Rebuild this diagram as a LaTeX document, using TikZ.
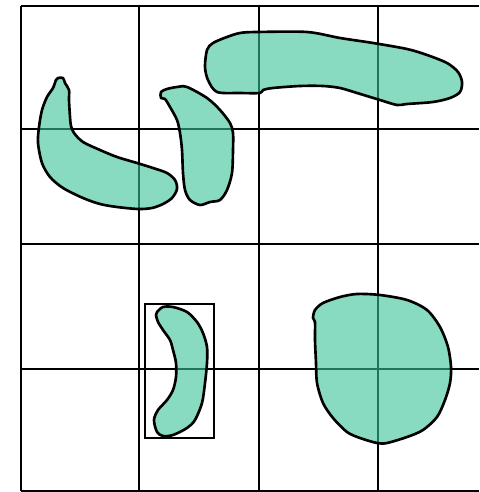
\documentclass[tikz,border=0pt]{standalone}
\usepackage{tikz}
\definecolor{blobgreen}{RGB}{57,193,152}

\begin{document}
\begin{tikzpicture}[x=0.02cm, y=-0.02cm,
    gridline/.style={black, line width=1.3pt},
    blob/.style={draw=black, line width=1.5pt, fill=blobgreen, fill opacity=0.6, line join=round}]
  \useasboundingbox (0,0) rectangle (479,492);

  % Grid
  \foreach \gx in {21,139,259,378}
    \draw[gridline] (\gx,6) -- (\gx,491);
  \foreach \gy in {6,129,244,369,491}
    \draw[gridline] (21,\gy) -- (479,\gy);

  % Left banana
  \draw[blob] plot[smooth cycle, tension=0.5] coordinates {
    (58,78) (63,78) (65,83) (69,90) (69,100) (70,117) (71,126) (74,133)
    (83,142) (100,150) (117,157) (137,163) (153,168) (167,173) (175,180)
    (177,189) (172,198) (163,204) (152,208) (138,209) (117,207) (100,204)
    (83,198) (63,188) (50,177) (42,163) (38,143) (39,127) (42,110) (47,97)
    (53,88) (56,80)};

  % Comma shape
  \draw[blob] plot[smooth cycle, tension=0.5] coordinates {
    (161,92) (161,98) (165,99) (170,107) (177,120) (180,133) (182,150)
    (183,173) (185,190) (190,200) (200,205) (210,202) (220,200) (227,190)
    (232,173) (233,150) (233,133) (230,123) (220,110) (207,98) (187,87)
    (177,87) (167,89)};

  % Long top shape
  \draw[blob] plot[smooth cycle, tension=0.5] coordinates {
    (207,50) (213,43) (227,37) (240,33) (257,32) (307,32) (340,38) (373,43)
    (407,49) (427,55) (447,63) (458,72) (462,82) (460,92) (450,98) (433,102)
    (407,104) (397,105) (380,100) (357,93) (340,88) (323,86) (300,86)
    (273,88) (263,90) (260,93) (240,93) (217,92) (208,80) (205,67)};

  % Box round the crescent
  \draw[gridline] (145,304) rectangle (214,438);

  % Crescent
  \draw[blob] plot[smooth cycle, tension=0.5] coordinates {
    (157,312) (163,307) (173,307) (187,312) (197,322) (203,333) (207,347)
    (207,363) (205,383) (202,403) (195,420) (187,428) (173,435) (163,436)
    (157,432) (154,420) (158,410) (167,400) (173,390) (176,377) (176,363)
    (173,350) (170,340) (163,330) (158,322) (156,315)};

  % Round shape
  \draw[blob] plot[smooth cycle, tension=0.5] coordinates {
    (313,318) (315,310) (323,303) (340,297) (357,294) (380,295) (407,300)
    (427,310) (440,327) (448,347) (451,367) (450,383) (445,400) (437,417)
    (423,430) (407,437) (387,443) (377,443) (360,438) (347,432) (333,418)
    (323,403) (317,383) (316,363) (315,340) (315,322)};
\end{tikzpicture}
\end{document}
